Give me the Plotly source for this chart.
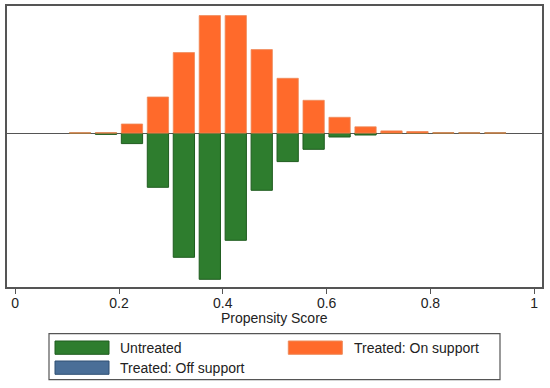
import plotly.graph_objects as go

# ---- data (arbitrary frequency units) ----
bin_centers = [0.125, 0.175, 0.225, 0.275, 0.325, 0.375, 0.425, 0.475,
               0.525, 0.575, 0.625, 0.675, 0.725, 0.775, 0.825, 0.875, 0.925]
treated_on = [0.3, 0.4, 9.1, 36.1, 80.5, 117.5, 117.5, 83.5,
              54.8, 32.8, 15.8, 6.3, 2.2, 1.6, 0.3, 0.2, 0.2]
untreated = [-0.2, -1.3, -10.5, -54.2, -124.2, -146.2, -107.2, -57.2,
             -28.5, -16.2, -3.9, -1.9, 0, 0, 0, 0, 0]
treated_off_x = []
treated_off_y = []
tick_vals = [0, 0.2, 0.4, 0.6, 0.8, 1]
tick_text = ["0", "0.2", "0.4", "0.6", "0.8", "1"]
legend_labels = ["Untreated", "Treated: On support", "Treated: Off support"]

# ---- style ----
GREEN = "#2e7d2e"
GREEN_LINE = "#1f5c1f"
ORANGE = "#ff6a2b"
ORANGE_LINE = "#ee8a5a"
BLUE = "#4a6e97"
BLUE_LINE = "#2f4f73"
FRAME = "#555555"
FONT = "Liberation Sans, Arial, sans-serif"
BAR_W = 0.041

W, H = 550, 388
L, R, T, B = 7, 8, 5.7, 101.3
PW, PH = W - L - R, H - T - B


def px(x):
    return (x - L) / PW


def py(y):
    return (H - B - y) / PH


fig = go.Figure()
fig.add_trace(go.Bar(x=bin_centers, y=untreated, width=BAR_W, name=legend_labels[0],
                     marker=dict(color=GREEN, line=dict(color=GREEN_LINE, width=1))))
fig.add_trace(go.Bar(x=bin_centers, y=treated_on, width=BAR_W, name=legend_labels[1],
                     marker=dict(color=ORANGE, line=dict(color=ORANGE_LINE, width=0.8))))
fig.add_trace(go.Bar(x=treated_off_x, y=treated_off_y, width=BAR_W, name=legend_labels[2],
                     marker=dict(color=BLUE, line=dict(color=BLUE_LINE, width=1))))

shapes = []
annotations = []
# legend box
shapes.append(dict(type="rect", xref="paper", yref="paper",
                   x0=px(49), x1=px(500), y0=py(333.3), y1=py(379.3),
                   line=dict(color=FRAME, width=1.2), fillcolor="white", layer="above"))
legend_items = [
    (legend_labels[0], GREEN, GREEN_LINE, 55, 340.7, 117.7),
    (legend_labels[1], ORANGE, ORANGE_LINE, 288.3, 340.7, 352.3),
    (legend_labels[2], BLUE, BLUE_LINE, 55, 360.7, 117.7),
]
for label, fill, line, sx, sy, tx in legend_items:
    shapes.append(dict(type="rect", xref="paper", yref="paper",
                       x0=px(sx), x1=px(sx + 54), y0=py(sy), y1=py(sy + 13.3),
                       line=dict(color=line, width=1), fillcolor=fill, layer="above"))
    annotations.append(dict(text=label, xref="paper", yref="paper",
                            x=px(tx), y=py(sy + 6.8), xanchor="left", yanchor="middle",
                            showarrow=False, font=dict(family=FONT, size=14, color="#222222")))
# axis title
annotations.append(dict(text="Propensity Score", xref="paper", yref="paper",
                        x=px((15.2 + 534) / 2), y=py(318), xanchor="center", yanchor="middle",
                        showarrow=False, font=dict(family=FONT, size=14, color="#222222")))

fig.update_layout(
    width=W, height=H,
    margin=dict(l=L, r=R, t=T, b=B, autoexpand=False),
    barmode="overlay",
    showlegend=False,
    plot_bgcolor="white", paper_bgcolor="white",
    font=dict(family=FONT, size=14, color="#222222"),
    shapes=shapes, annotations=annotations,
    xaxis=dict(range=[-0.0158, 1.015], tickvals=tick_vals, ticktext=tick_text,
               ticks="outside", ticklen=5, tickcolor=FRAME, tickwidth=1,
               ticklabelstandoff=-3,
               showline=True, linecolor=FRAME, linewidth=1.5, mirror=True,
               showgrid=False, zeroline=False,
               tickfont=dict(family=FONT, size=14, color="#222222")),
    yaxis=dict(range=[-153.9, 127.1], showticklabels=False, ticks="",
               showline=True, linecolor=FRAME, linewidth=1.5, mirror=True,
               showgrid=False, zeroline=True, zerolinecolor=FRAME, zerolinewidth=1),
)

fig.write_html("out.html", config={"displayModeBar": False},
               post_script="document.body.style.margin='0px';")
